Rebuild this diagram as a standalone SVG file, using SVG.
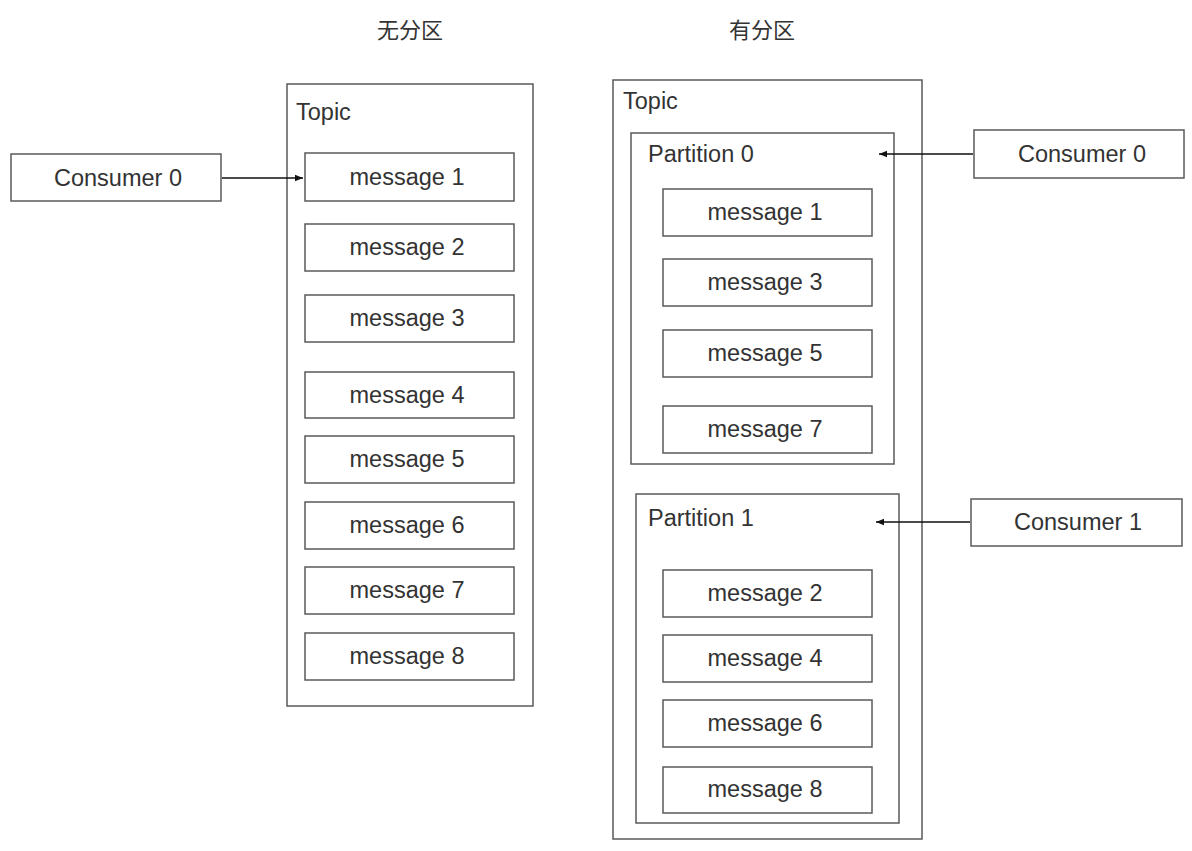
<svg xmlns="http://www.w3.org/2000/svg" width="1192" height="851" viewBox="0 0 1192 851">
<style>
  .box { fill: #ffffff; stroke: #5a5a5a; stroke-width: 1.5; }
  .cont { fill: none; stroke: #5a5a5a; stroke-width: 1.5; }
  .t { font-family: "Liberation Sans", Arial, sans-serif; font-size: 23.5px; fill: #333333; }
  .c { text-anchor: middle; }
  .title { font-family: "Liberation Sans", "Noto Sans CJK SC", sans-serif; font-size: 22px; fill: #333333; text-anchor: middle; }
  .conn { stroke: #111111; stroke-width: 1.5; fill: none; marker-end: url(#arrow); }
</style>
<defs>
  <marker id="arrow" viewBox="0 0 10 10" refX="10" refY="5" markerWidth="8" markerHeight="8" markerUnits="userSpaceOnUse" orient="auto">
    <path d="M0,1 L10,5 L0,9 Z" fill="#111111"/>
  </marker>
</defs>
<rect width="1192" height="851" fill="#ffffff"/>

<text class="title" x="410" y="38">无分区</text>
<text class="title" x="762" y="38">有分区</text>

<!-- Left: no partition -->
<g id="topic-left">
  <rect class="cont" x="287" y="84" width="246" height="622"/>
  <text class="t" x="296" y="120">Topic</text>
</g>
<g id="consumer0-left">
  <rect class="box" x="11" y="154" width="210" height="47"/>
  <text class="t c" x="118" y="186">Consumer 0</text>
</g>
<g id="l-msg1"><rect class="box" x="305" y="153" width="209" height="48"/><text class="t c" x="407" y="185">message 1</text></g>
<g id="l-msg2"><rect class="box" x="305" y="224" width="209" height="47"/><text class="t c" x="407" y="255">message 2</text></g>
<g id="l-msg3"><rect class="box" x="305" y="295" width="209" height="47"/><text class="t c" x="407" y="326">message 3</text></g>
<g id="l-msg4"><rect class="box" x="305" y="372" width="209" height="46"/><text class="t c" x="407" y="403">message 4</text></g>
<g id="l-msg5"><rect class="box" x="305" y="436" width="209" height="47"/><text class="t c" x="407" y="467">message 5</text></g>
<g id="l-msg6"><rect class="box" x="305" y="502" width="209" height="47"/><text class="t c" x="407" y="533">message 6</text></g>
<g id="l-msg7"><rect class="box" x="305" y="567" width="209" height="47"/><text class="t c" x="407" y="598">message 7</text></g>
<g id="l-msg8"><rect class="box" x="305" y="633" width="209" height="47"/><text class="t c" x="407" y="664">message 8</text></g>

<!-- Right: partitioned -->
<g id="topic-right">
  <rect class="cont" x="613" y="80" width="309" height="759"/>
  <text class="t" x="623" y="109">Topic</text>
</g>
<g id="partition0">
  <rect class="cont" x="631" y="133" width="263" height="331"/>
  <text class="t" x="648" y="162">Partition 0</text>
</g>
<g id="p0-msg1"><rect class="box" x="663" y="189" width="209" height="47"/><text class="t c" x="765" y="220">message 1</text></g>
<g id="p0-msg3"><rect class="box" x="663" y="259" width="209" height="47"/><text class="t c" x="765" y="290">message 3</text></g>
<g id="p0-msg5"><rect class="box" x="663" y="330" width="209" height="47"/><text class="t c" x="765" y="361">message 5</text></g>
<g id="p0-msg7"><rect class="box" x="663" y="406" width="209" height="47"/><text class="t c" x="765" y="437">message 7</text></g>

<g id="partition1">
  <rect class="cont" x="636" y="494" width="263" height="329"/>
  <text class="t" x="648" y="526">Partition 1</text>
</g>
<g id="p1-msg2"><rect class="box" x="663" y="570" width="209" height="47"/><text class="t c" x="765" y="601">message 2</text></g>
<g id="p1-msg4"><rect class="box" x="663" y="635" width="209" height="47"/><text class="t c" x="765" y="666">message 4</text></g>
<g id="p1-msg6"><rect class="box" x="663" y="700" width="209" height="47"/><text class="t c" x="765" y="731">message 6</text></g>
<g id="p1-msg8"><rect class="box" x="663" y="767" width="209" height="46"/><text class="t c" x="765" y="797">message 8</text></g>

<g id="consumer0-right">
  <rect class="box" x="974" y="130" width="210" height="48"/>
  <text class="t c" x="1082" y="162">Consumer 0</text>
</g>
<g id="consumer1-right">
  <rect class="box" x="971" y="499" width="211" height="47"/>
  <text class="t c" x="1078" y="530">Consumer 1</text>
</g>

<g id="connectors">
  <line class="conn" x1="222" y1="178" x2="303" y2="178"/>
  <line class="conn" x1="973" y1="154" x2="879" y2="154"/>
  <line class="conn" x1="970" y1="522" x2="876" y2="522"/>
</g>
</svg>
